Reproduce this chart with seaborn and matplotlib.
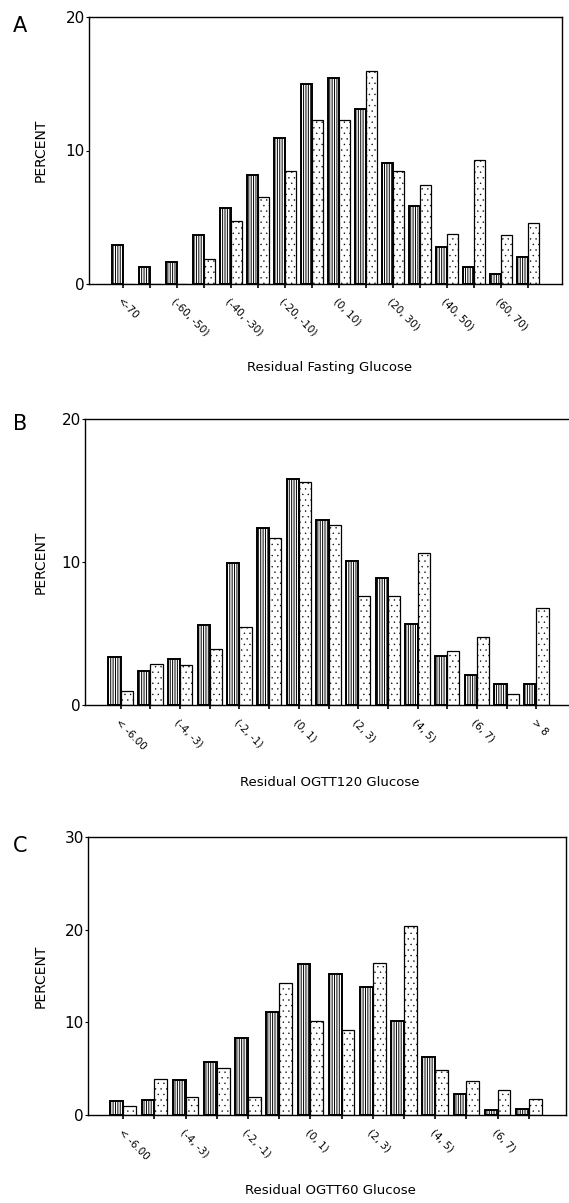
import pandas as pd
import seaborn as sns
import matplotlib.pyplot as plt

# Panel A - residual fasting glucose (two groups per bin, percent)
fasting_bins = ['<-70', '(-70, -60)', '(-60, -50)', '(-50, -40)', '(-40, -30)', '(-30, -20)',
                '(-20, -10)', '(-10, 0)', '(0, 10)', '(10, 20)', '(20, 30)', '(30, 40)',
                '(40, 50)', '(50, 60)', '(60, 70)', '>70']
fasting_dark = [2.95, 1.3, 1.65, 3.7, 5.7, 8.2, 10.9, 14.95, 15.4, 13.1, 9.05, 5.85, 2.8, 1.25, 0.75, 2.0]
fasting_light = [0, 0, 0, 1.85, 4.75, 6.55, 8.5, 12.3, 12.3, 15.95, 8.5, 7.45, 3.75, 9.3, 3.7, 4.6]

# Panel B - residual OGTT120 glucose
ogtt120_bins = ['< -6.00', '(-5, -4)', '(-4, -3)', '(-3, -2)', '(-2, -1)', '(-1, 0)', '(0, 1)',
                '(1, 2)', '(2, 3)', '(3, 4)', '(4, 5)', '(5, 6)', '(6, 7)', '(7, 8)', '> 8']
ogtt120_dark = [3.35, 2.35, 3.25, 5.6, 9.95, 12.4, 15.8, 12.95, 10.05, 8.9, 5.65, 3.45, 2.1, 1.5, 1.45]
ogtt120_light = [0.95, 2.85, 2.8, 3.9, 5.45, 11.7, 15.6, 12.6, 7.65, 7.65, 10.65, 3.75, 4.75, 0.8, 6.8]

# Panel C - residual OGTT60 glucose
ogtt60_bins = ['< -6.00', '(-5, -4)', '(-4, -3)', '(-3, -2)', '(-2, -1)', '(-1, 0)', '(0, 1)',
               '(1, 2)', '(2, 3)', '(3, 4)', '(4, 5)', '(5, 6)', '(6, 7)', '> 7']
ogtt60_dark = [1.55, 1.6, 3.75, 5.7, 8.3, 11.1, 16.25, 15.25, 13.85, 10.1, 6.25, 2.25, 0.5, 0.65]
ogtt60_light = [0.95, 3.9, 1.95, 5.05, 1.9, 14.2, 10.15, 9.2, 16.4, 20.4, 4.9, 3.7, 2.75, 1.75]

sns.set_style('ticks')
plt.rcParams['font.family'] = ['DejaVu Sans']
plt.rcParams['hatch.linewidth'] = 0.7
for key in ['text.color', 'axes.labelcolor', 'xtick.color', 'ytick.color']:
    plt.rcParams[key] = 'black'

W, H = 569, 1203
fig = plt.figure(figsize=(W / 100, H / 100), dpi=100)


def add_axes_px(left, top, right, bottom):
    return fig.add_axes([left / W, 1 - bottom / H, (right - left) / W, (bottom - top) / H])


def set_hatch_lw(p, lw):
    if hasattr(p, 'set_hatch_linewidth'):
        p.set_hatch_linewidth(lw)
    else:
        p._hatch_linewidth = lw


def draw_panel(ax, bins, dark, light, ymax, xlim):
    n = len(bins)
    df = pd.DataFrame({'bin': bins * 2, 'pct': dark + light,
                       'group': ['dark'] * n + ['light'] * n})
    sns.barplot(data=df, x='bin', y='pct', hue='group', order=bins, hue_order=['dark', 'light'],
                palette=['white', 'white'], saturation=1, width=0.82, gap=0,
                edgecolor='black', legend=False, ax=ax)
    for i, p in enumerate(ax.patches):
        if i < n:
            p.set_hatch('|||||||')
            p.set_linewidth(1.4)
        else:
            p.set_hatch('...')
            p.set_linewidth(0.9)
            set_hatch_lw(p, 0.25)

    ax.set_xlim(*xlim)
    ax.set_ylim(0, ymax)
    ax.set_yticks(range(0, ymax + 1, 10))
    ax.set_xticks(range(n))
    ax.set_xticklabels([b if i % 2 == 0 else '' for i, b in enumerate(bins)],
                       rotation=-45, ha='left', va='top', rotation_mode='anchor', fontsize=7.5)
    ax.tick_params(axis='y', length=2, width=0.8, pad=1, labelsize=11)
    ax.tick_params(axis='x', length=3, width=1.2, pad=6)
    ax.set_xlabel('')
    ax.set_ylabel('')
    for s in ax.spines.values():
        s.set_linewidth(1.0)
        s.set_color('black')


panels = [
    ('A', fasting_bins, fasting_dark, fasting_light, 20, (89, 17, 562, 284), (-1.26, 16.27),
     'Residual Fasting Glucose', 368, 26),
    ('B', ogtt120_bins, ogtt120_dark, ogtt120_light, 20, (85, 419, 572, 705), (-1.2, 15.2),
     'Residual OGTT120 Glucose', 783, 424),
    ('C', ogtt60_bins, ogtt60_dark, ogtt60_light, 30, (88, 837, 566, 1115), (-1.13, 14.19),
     'Residual OGTT60 Glucose', 1190, 846),
]

for letter, bins, dark, light, ymax, box, xlim, xlabel, label_y, letter_y in panels:
    ax = add_axes_px(*box)
    draw_panel(ax, bins, dark, light, ymax, xlim)
    mid = (box[1] + box[3]) / 2
    fig.text(20 / W, 1 - letter_y / H, letter, fontsize=15, ha='center', va='center')
    fig.text(41 / W, 1 - mid / H, 'PERCENT', rotation=90, fontsize=10, ha='center', va='center')
    fig.text(330 / W, 1 - label_y / H, xlabel, fontsize=9.5, ha='center', va='center')

fig.savefig('out.png', dpi=100)
